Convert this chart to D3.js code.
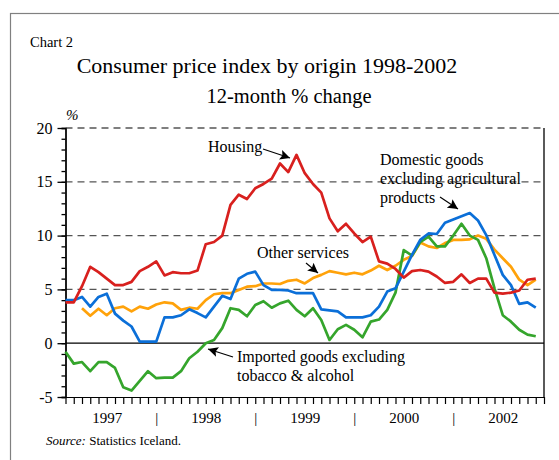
<!DOCTYPE html>
<html>
<head>
<meta charset="utf-8">
<script src="https://cdn.jsdelivr.net/npm/d3@7"></script>
<style>
  body { margin: 0; background: #fff; }
  svg { display: block; }
  svg text { font-family: "Liberation Serif", "Times New Roman", serif; fill: #000; }
</style>
</head>
<body>
<svg id="chart" width="559" height="460"></svg>
<script>
// monthly observations, index 0..57
const housing = [3.8,3.8,5.3,7.1,6.6,6.0,5.4,5.4,5.7,6.7,7.1,7.6,6.3,6.6,6.5,6.5,6.75,9.2,9.4,10.0,
  12.85,13.8,13.4,14.4,14.8,15.3,16.7,15.9,17.5,15.8,14.8,14.0,11.6,10.4,11.1,10.2,9.4,9.9,7.6,7.4,
  6.9,6.1,6.7,6.8,6.65,6.2,5.6,5.7,6.4,5.6,6.0,6.0,4.7,4.6,4.7,4.9,5.9,6.0];
const domestic = [4.0,4.0,4.3,3.4,4.3,4.6,2.75,2.1,1.55,0.15,0.15,0.15,2.4,2.4,2.6,3.15,2.8,2.4,3.4,4.4,
  4.1,6.0,6.45,6.65,5.4,4.95,4.95,4.9,4.65,4.65,4.65,3.15,3.05,2.95,2.4,2.4,2.4,2.6,3.4,4.8,
  5.1,6.65,8.2,9.6,10.2,10.15,11.2,11.5,11.8,12.1,11.4,10.05,8.2,6.35,5.4,3.65,3.8,3.3];
const services = [null,null,3.25,2.55,3.2,2.6,3.25,3.4,2.95,3.4,3.2,3.6,3.8,3.7,3.1,3.3,3.2,4.0,4.55,4.65,
  4.65,4.95,5.25,5.3,5.55,5.55,5.5,5.8,5.9,5.55,6.05,6.35,6.7,6.55,6.4,6.55,6.4,6.75,7.2,6.8,
  7.2,7.75,8.1,9.35,9.0,8.85,9.3,9.6,9.6,9.65,10.0,9.7,8.7,7.9,7.1,5.9,5.4,5.9];
const imported = [-0.8,-1.9,-1.75,-2.6,-1.75,-1.75,-2.3,-4.1,-4.4,-3.5,-2.6,-3.25,-3.2,-3.2,-2.6,-1.4,-0.8,0.0,0.3,1.4,
  3.25,3.1,2.5,3.55,3.9,3.3,3.7,3.95,3.1,2.5,3.25,2.15,0.3,1.3,1.7,1.25,0.55,2.0,2.2,3.1,
  4.7,8.65,8.15,9.4,9.9,9.0,9.0,10.0,11.1,10.0,9.6,7.9,5.1,2.6,2.0,1.25,0.8,0.65];

const yTicks = [-5, 0, 5, 10, 15, 20];
const gridValues = [5, 10, 15, 20];
const xLabels = ['1997', '|', '1998', '|', '1999', '|', '2000', '|', '2002'];
const xLabelPos = [5, 11, 17, 23, 29, 35, 41, 47, 53];

const series = [
  { name: 'services', values: services, color: '#ffa20a' },
  { name: 'imported', values: imported, color: '#35a52c' },
  { name: 'domestic', values: domestic, color: '#0b6fd8' },
  { name: 'housing', values: housing, color: '#d8201e' },
];

const svg = d3.select('#chart');

// outer frame
svg.append('rect')
  .attr('x', 10.5).attr('y', 13.5)
  .attr('width', 600).attr('height', 500)
  .attr('fill', 'none').attr('stroke', '#808080').attr('stroke-width', 1.2);

svg.append('text').attr('x', 30).attr('y', 47)
  .attr('font-size', 14.5).text('Chart 2');
svg.append('text').attr('x', 267).attr('y', 73).attr('text-anchor', 'middle')
  .attr('font-size', 22).text('Consumer price index by origin 1998-2002');
svg.append('text').attr('x', 289).attr('y', 103).attr('text-anchor', 'middle')
  .attr('font-size', 20.5).text('12-month % change');
svg.append('text').attr('x', 66).attr('y', 120)
  .attr('font-size', 15).attr('font-style', 'italic').text('%');

const x = d3.scaleLinear().domain([0, 58]).range([65.5, 544]);
const y = d3.scaleLinear().domain([-5, 20]).range([397, 128]);

// dashed grid
svg.append('g').selectAll('line').data(gridValues).join('line')
  .attr('x1', x(0)).attr('x2', x(58))
  .attr('y1', (d) => y(d)).attr('y2', (d) => y(d))
  .attr('stroke', '#555').attr('stroke-width', 1.3)
  .attr('stroke-dasharray', '7,5');

// zero line and right border
svg.append('line')
  .attr('x1', x(0)).attr('x2', x(58)).attr('y1', y(0)).attr('y2', y(0))
  .attr('stroke', '#000').attr('stroke-width', 1.3);
svg.append('line')
  .attr('x1', x(58)).attr('x2', x(58)).attr('y1', y(20)).attr('y2', y(-5))
  .attr('stroke', '#000').attr('stroke-width', 1.3);

// y axis: minor and major ticks
svg.append('g').attr('transform', `translate(${x(0)},0)`)
  .call(d3.axisLeft(y).tickValues(d3.range(-5, 21)).tickSize(4).tickFormat(''))
  .call((g) => g.selectAll('path,line').attr('stroke', '#000').attr('stroke-width', 1.3));
svg.append('g').attr('transform', `translate(${x(0)},0)`)
  .call(d3.axisLeft(y).tickValues(yTicks).tickSize(8).tickPadding(5).tickSizeOuter(0)
    .tickFormat((d) => String(d)))
  .call((g) => g.selectAll('path,line').attr('stroke', '#000').attr('stroke-width', 1.3))
  .call((g) => g.selectAll('text').style('font-size', '16px'));

// x axis: monthly ticks and labels
svg.append('g').attr('transform', `translate(0,${y(-5)})`)
  .call(d3.axisBottom(x).tickValues(d3.range(0, 59)).tickSize(7).tickSizeOuter(0).tickFormat(''))
  .call((g) => g.selectAll('path,line').attr('stroke', '#000').attr('stroke-width', 1.2));
svg.append('g').attr('transform', `translate(0,${y(-5)})`)
  .call(d3.axisBottom(x).tickValues(xLabelPos).tickSize(0).tickPadding(15)
    .tickFormat((d, i) => xLabels[i]))
  .call((g) => g.select('.domain').remove())
  .call((g) => g.selectAll('text').style('font-size', '15px'));

// lines
const line = d3.line()
  .defined((d) => d != null)
  .x((d, i) => x(i))
  .y((d) => y(d));

svg.append('g').selectAll('path').data(series).join('path')
  .attr('d', (s) => line(s.values))
  .attr('fill', 'none')
  .attr('stroke', (s) => s.color)
  .attr('stroke-width', 2.7)
  .attr('stroke-linejoin', 'round');

// annotations
svg.append('defs').append('marker')
  .attr('id', 'head').attr('viewBox', '0 0 10 10')
  .attr('refX', 10).attr('refY', 5)
  .attr('markerWidth', 10).attr('markerHeight', 10)
  .attr('markerUnits', 'userSpaceOnUse')
  .attr('orient', 'auto')
  .append('path').attr('d', 'M0,0L10,5L0,10L2,5Z').attr('fill', '#000');

const notes = [
  { lines: ['Housing'], x: 208, y: 152, from: [263, 149], to: [290, 158] },
  { lines: ['Other services'], x: 257, y: 258, from: [306, 263], to: [318, 273] },
  { lines: ['Domestic goods', 'excluding agricultural', 'products'], x: 380, y: 165, from: [440, 197], to: [458, 209] },
  { lines: ['Imported goods excluding', 'tobacco & alcohol'], x: 237, y: 362, from: [233, 357], to: [208, 349] },
];

notes.forEach((n) => {
  const t = svg.append('text').attr('x', n.x).attr('y', n.y).attr('font-size', 16);
  n.lines.forEach((s, i) => {
    t.append('tspan').attr('x', n.x).attr('dy', i === 0 ? 0 : 19).text(s);
  });
  svg.append('line')
    .attr('x1', n.from[0]).attr('y1', n.from[1])
    .attr('x2', n.to[0]).attr('y2', n.to[1])
    .attr('stroke', '#000').attr('stroke-width', 1.1)
    .attr('marker-end', 'url(#head)');
});

const src = svg.append('text').attr('x', 46).attr('y', 445).attr('font-size', 13);
src.append('tspan').attr('font-style', 'italic').text('Source:');
src.append('tspan').text(' Statistics Iceland.');
</script>
</body>
</html>
